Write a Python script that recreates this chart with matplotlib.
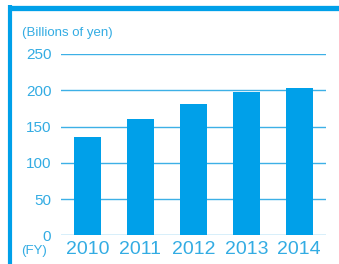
import matplotlib
matplotlib.use("Agg")
import matplotlib.pyplot as plt
from matplotlib.lines import Line2D

# Data (billions of yen, by fiscal year)
YEARS = ["2010", "2011", "2012", "2013", "2014"]
VALUES = [136, 160, 181, 197, 203]
Y_TICKS = [0, 50, 100, 150, 200, 250]

BAR_COLOR = "#00A0E9"
TEXT_COLOR = "#33ACE3"
GRID_COLOR = "#3DB0E6"

plt.rcParams["font.family"] = ["Liberation Sans Narrow", "Liberation Sans", "DejaVu Sans"]

fig = plt.figure(figsize=(3.39, 2.64), dpi=100)
fig.patch.set_facecolor("white")
ax = fig.add_axes([0.18, 0.1087, 0.7808, 0.6868])

x = range(len(YEARS))
ax.bar(x, VALUES, width=0.51, color=BAR_COLOR, zorder=3)

ax.set_xlim(-0.5, len(YEARS) - 0.5)
ax.set_ylim(0, 250)
ax.set_yticks(Y_TICKS)
ax.set_yticklabels([str(t) for t in Y_TICKS], fontsize=11, color=TEXT_COLOR)
ax.set_xticks(list(x))
ax.set_xticklabels(YEARS, fontsize=14, color=TEXT_COLOR)
ax.tick_params(axis="both", length=0)
ax.tick_params(axis="y", pad=7)
ax.tick_params(axis="x", pad=4)
ax.grid(axis="y", color=GRID_COLOR, linewidth=1.0, zorder=0)
for s in ax.spines.values():
    s.set_visible(False)

fig.text(22 / 339, 1 - 33 / 264, "(Billions of yen)", fontsize=9.5,
         color=TEXT_COLOR, ha="left", va="center")
fig.text(21 / 339, 1 - 251 / 264, "(FY)", fontsize=9.5,
         color=TEXT_COLOR, ha="left", va="center")

# Frame: thick top and left edges
fig.add_artist(Line2D([8 / 339, 1.0], [1 - 7.5 / 264, 1 - 7.5 / 264],
                      transform=fig.transFigure, color=BAR_COLOR, linewidth=3.8,
                      solid_capstyle="butt"))
fig.add_artist(Line2D([10 / 339, 10 / 339], [0, 1 - 5 / 264],
                      transform=fig.transFigure, color=BAR_COLOR, linewidth=3.0,
                      solid_capstyle="butt"))

fig.savefig("out.png", dpi=100, facecolor="white")
